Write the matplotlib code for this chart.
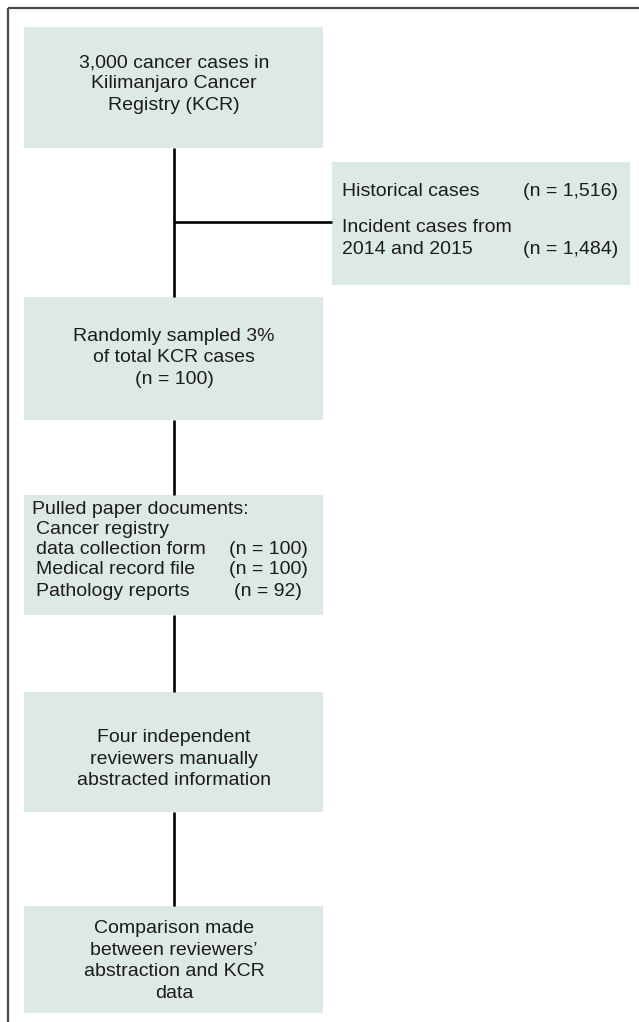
import matplotlib
matplotlib.use("Agg")
import matplotlib.pyplot as plt
from matplotlib.patches import Rectangle

# ---- data ----
total_cases = 3000
side_labels = ["Historical cases", "Incident cases from\n2014 and 2015"]
side_counts = [1516, 1484]
sampled_n = 100
doc_header = "Pulled paper documents:"
doc_labels = ["Cancer registry\ndata collection form", "Medical record file", "Pathology reports"]
doc_counts = [100, 100, 92]
step_texts = [
    f"{total_cases:,} cancer cases in\nKilimanjaro Cancer\nRegistry (KCR)",
    f"Randomly sampled 3%\nof total KCR cases\n(n = {sampled_n})",
    "Four independent\nreviewers manually\nabstracted information",
    "Comparison made\nbetween reviewers\u2019\nabstraction and KCR\ndata",
]

FILL = "#dce9e4"
TXT = "#1e1b1c"
FONT = ["Liberation Sans", "DejaVu Sans"]
FS = 14
LS = 21.5  # px between lines

fig = plt.figure(figsize=(6.39, 10.22), dpi=100)
ax = fig.add_axes([0, 0, 1, 1])
ax.set_xlim(0, 639)
ax.set_ylim(1022, 0)
ax.axis("off")

def box(x0, y0, x1, y1):
    ax.add_patch(Rectangle((x0, y0), x1 - x0, y1 - y0, facecolor=FILL, edgecolor="none", zorder=1))

def lines_centered(xc, yc, text, ha="center"):
    ls = text.split("\n")
    n = len(ls)
    for i, l in enumerate(ls):
        y = yc + (i - (n - 1) / 2) * LS
        ax.text(xc, y, l, ha=ha, va="center", fontsize=FS, color=TXT, family=FONT, zorder=3)

# frame (top and left)
ax.plot([8, 639], [8, 8], color="#4a4a4a", lw=1.6, solid_capstyle="butt", zorder=2)
ax.plot([8, 8], [8, 1022], color="#4a4a4a", lw=1.6, solid_capstyle="butt", zorder=2)

# main boxes
BX0, BX1 = 24, 323
XC = 174
main_boxes = [(27, 148), (297, 420), (495, 615), (692, 812), (906, 1013)]
for (y0, y1) in main_boxes:
    box(BX0, y0, BX1, y1)

# connectors
for (a, b) in zip(main_boxes[:-1], main_boxes[1:]):
    ax.plot([XC, XC], [a[1], b[0]], color="black", lw=1.9, solid_capstyle="butt", zorder=2)
ax.plot([XC, 332], [222, 222], color="black", lw=1.9, solid_capstyle="butt", zorder=2)

# side box
box(332, 162, 630, 285)

# step texts
lines_centered(XC, 84, step_texts[0])
lines_centered(XC, 358, step_texts[1])
lines_centered(XC, 759, step_texts[2])
lines_centered(XC, 961, step_texts[3])

# side texts
side_y = [[192], [228, 249]]
for lab, cnt, ys in zip(side_labels, side_counts, side_y):
    for l, y in zip(lab.split("\n"), ys):
        ax.text(342, y, l, ha="left", va="center", fontsize=FS, color=TXT, family=FONT, zorder=3)
    ax.text(618, ys[-1], f"(n = {cnt:,})", ha="right", va="center", fontsize=FS, color=TXT, family=FONT, zorder=3)

# documents box
ax.text(32, 509, doc_header, ha="left", va="center", fontsize=FS, color=TXT, family=FONT, zorder=3)
doc_y = [[529, 550], [570], [591]]
for lab, cnt, ys in zip(doc_labels, doc_counts, doc_y):
    for l, y in zip(lab.split("\n"), ys):
        ax.text(36, y, l, ha="left", va="center", fontsize=FS, color=TXT, family=FONT, zorder=3)
    ax.text(268, ys[-1], f"(n = {cnt})", ha="center", va="center", fontsize=FS, color=TXT, family=FONT, zorder=3)

fig.savefig("out.png", dpi=100, facecolor="white")
